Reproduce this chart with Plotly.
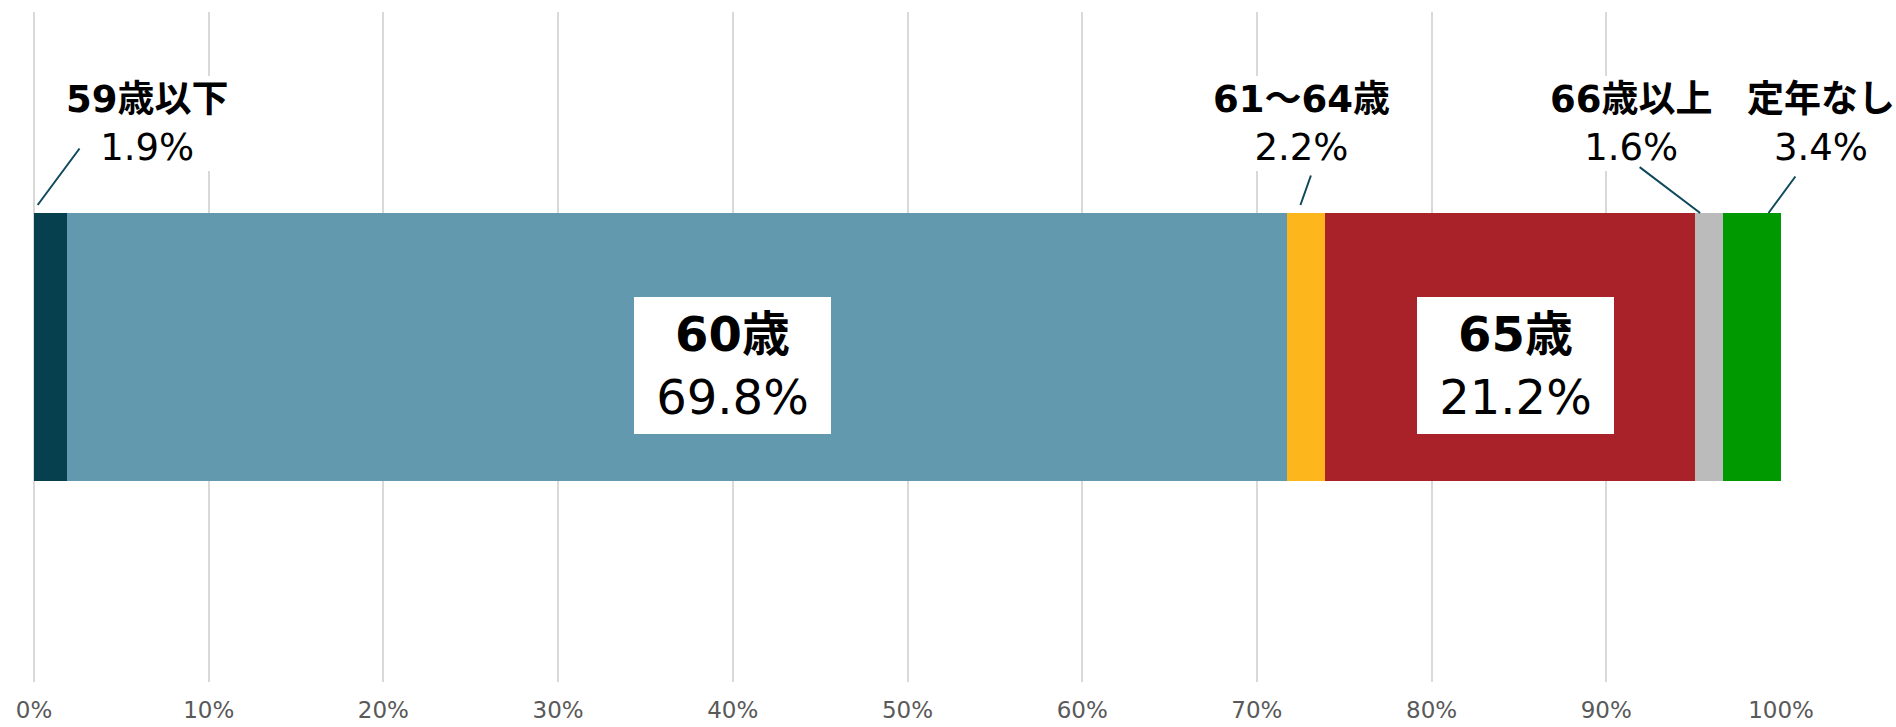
import plotly.graph_objects as go

# ---- data ----
categories = ["59歳以下", "60歳", "61～64歳", "65歳", "66歳以上", "定年なし"]
values = [1.9, 69.8, 2.2, 21.2, 1.6, 3.4]
colors = ["#063F4E", "#6399AF", "#FDB71D", "#A9222A", "#BABBBA", "#009A00"]
tick_vals = [0, 10, 20, 30, 40, 50, 60, 70, 80, 90, 100]
tick_text = ["0%", "10%", "20%", "30%", "40%", "50%", "60%", "70%", "80%", "90%", "100%"]

# label style: inside (boxed) or outside (with leader line)
inside = [False, True, False, True, False, False]
label_xshift = [97, 56, -4, 5, -78, 68]          # px offset of label centre from segment centre
leader_frac = [0.11, None, 0.36, None, 0.17, 0.76]  # where leader touches the segment
leader_ax = [43, None, 11, None, -62, 28]
leader_ay = [-58, None, -31, None, -47, -38]
leader_yshift = [8, None, 8, None, 0, 0]

FONT = "DejaVu Sans, Noto Sans CJK JP, sans-serif"
LEADER = "#0E4A5B"

fig = go.Figure()
for cat, val, col in zip(categories, values, colors):
    fig.add_trace(go.Bar(
        x=[val], y=[0], orientation="h", name=cat,
        marker=dict(color=col, line=dict(width=0)),
        width=0.4, hoverinfo="x+name",
    ))

annotations = []
start = 0.0
for i, (cat, val) in enumerate(zip(categories, values)):
    center = start + val / 2
    if inside[i]:
        annotations.append(dict(
            x=center, xref="x", y=0.473, yref="paper",
            xshift=label_xshift[i],
            text=f"<b>{cat}</b><br>{val:.1f}%",
            showarrow=False, font=dict(family=FONT, size=48, color="#000000"),
            bgcolor="#FFFFFF", width=197, height=137, borderpad=0, borderwidth=0,
            xanchor="center", yanchor="middle", align="center", valign="middle",
        ))
    else:
        annotations.append(dict(
            x=center, xref="x", y=0.833, yref="paper",
            xshift=label_xshift[i],
            text=f"<b>{cat}</b><br>{val:.1f}%",
            showarrow=False, font=dict(family=FONT, size=37, color="#000000"),
            bgcolor="#FFFFFF", borderpad=2, borderwidth=0,
            xanchor="center", yanchor="middle", align="center",
        ))
        annotations.append(dict(
            x=start + leader_frac[i] * val, xref="x", y=0.2, yref="y",
            yshift=leader_yshift[i],
            text="", showarrow=True, arrowhead=0, arrowwidth=2,
            arrowcolor=LEADER, ax=leader_ax[i], ay=leader_ay[i],
            standoff=0, startstandoff=0,
        ))
    start += val

fig.update_layout(
    width=1896, height=727,
    margin=dict(l=34, r=115, t=12, b=45),
    barmode="stack", bargap=0,
    plot_bgcolor="#FFFFFF", paper_bgcolor="#FFFFFF",
    showlegend=False,
    font=dict(family=FONT),
    annotations=annotations,
    xaxis=dict(
        range=[0, 100], tickvals=tick_vals, ticktext=tick_text,
        showgrid=True, gridcolor="#D9D9D9", gridwidth=2,
        zeroline=True, zerolinecolor="#D9D9D9", zerolinewidth=2,
        showline=False, ticks="",
        tickfont=dict(family=FONT, size=23, color="#595959"),
        ticklabelstandoff=12, automargin=False,
        fixedrange=True,
    ),
    yaxis=dict(
        range=[-0.5, 0.5], visible=False, showgrid=False, zeroline=False,
        fixedrange=True, automargin=False,
    ),
)

fig.write_html("out.html")
